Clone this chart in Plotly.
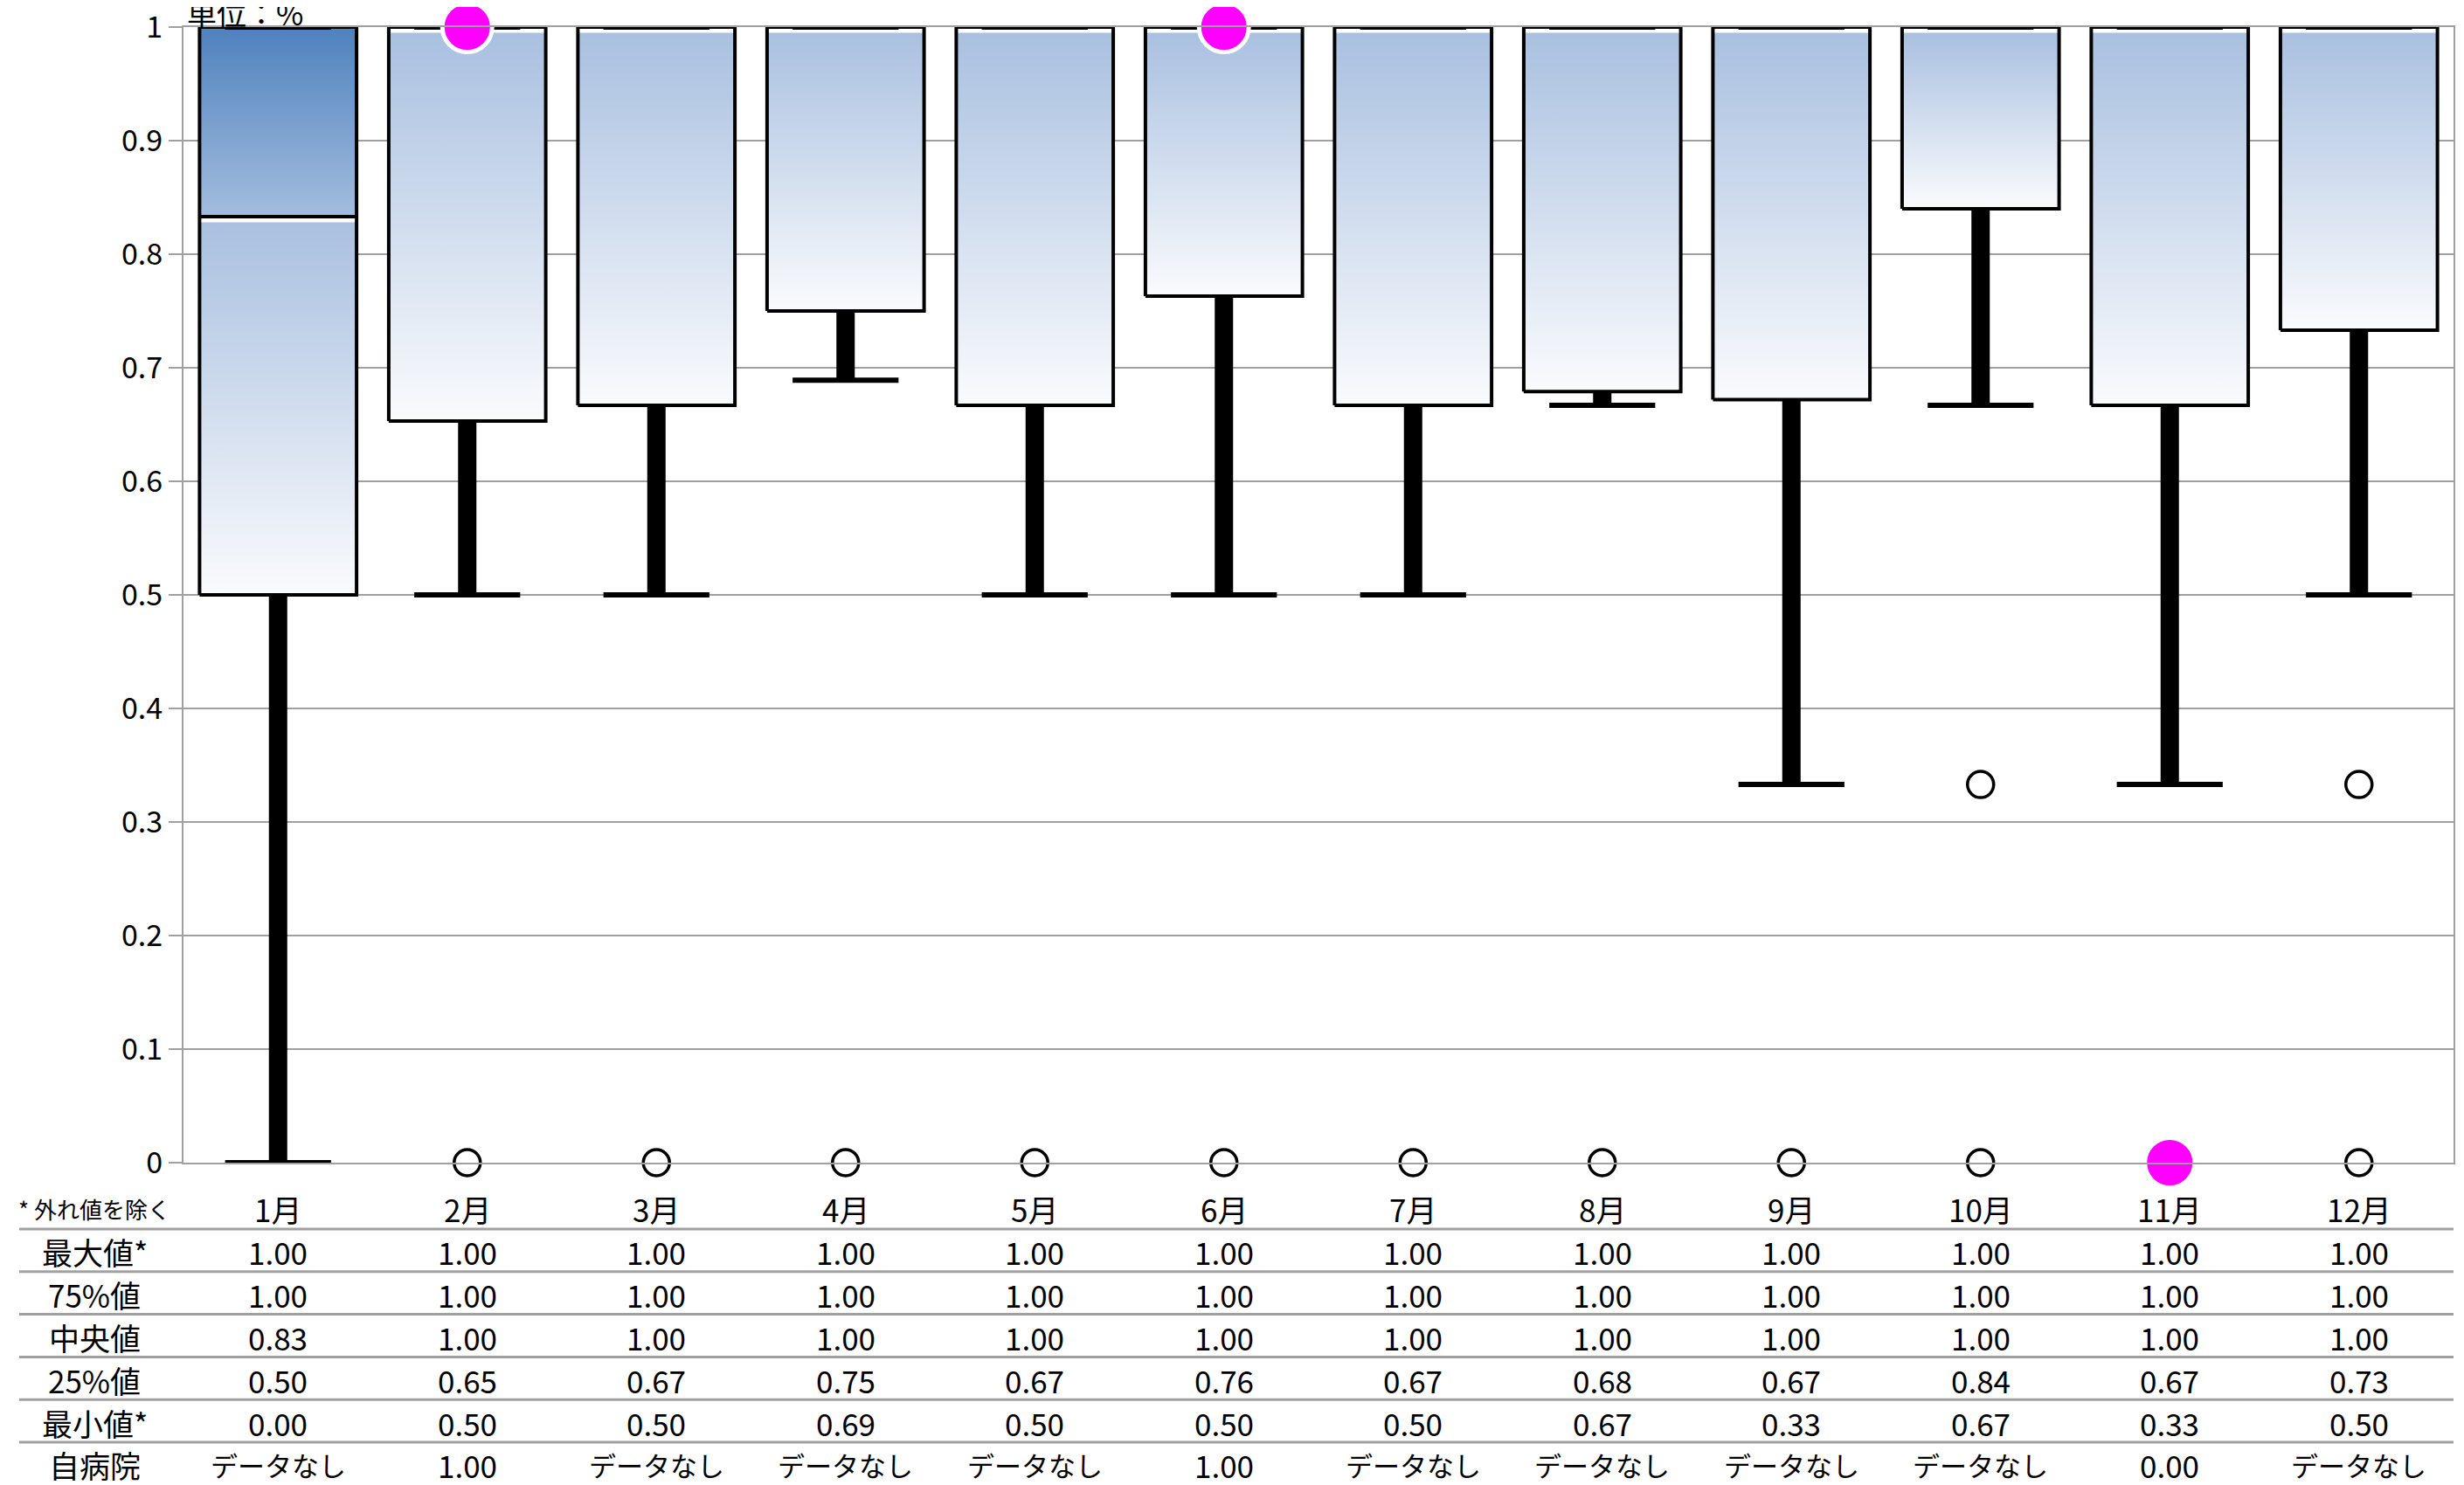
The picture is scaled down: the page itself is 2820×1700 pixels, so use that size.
import plotly.graph_objects as go

# ---------------- data ----------------
months = ["1月", "2月", "3月", "4月", "5月", "6月", "7月", "8月", "9月", "10月", "11月", "12月"]
max_vals = [1.00, 1.00, 1.00, 1.00, 1.00, 1.00, 1.00, 1.00, 1.00, 1.00, 1.00, 1.00]
q3_vals = [1.00, 1.00, 1.00, 1.00, 1.00, 1.00, 1.00, 1.00, 1.00, 1.00, 1.00, 1.00]
median_vals = [0.833, 1.00, 1.00, 1.00, 1.00, 1.00, 1.00, 1.00, 1.00, 1.00, 1.00, 1.00]
q1_vals = [0.50, 0.653, 0.667, 0.75, 0.667, 0.763, 0.667, 0.679, 0.672, 0.84, 0.667, 0.733]
min_vals = [0.00, 0.50, 0.50, 0.689, 0.50, 0.50, 0.50, 0.667, 0.333, 0.667, 0.333, 0.50]
self_vals = [None, 1.00, None, None, None, 1.00, None, None, None, None, 0.00, None]
outlier_months = ["2月", "3月", "4月", "5月", "6月", "7月", "8月", "9月", "10月", "10月", "11月", "12月", "12月"]
outlier_values = [0.0, 0.0, 0.0, 0.0, 0.0, 0.0, 0.0, 0.0, 0.0, 0.333, 0.0, 0.0, 0.333]
row_labels = ["最大値*", "75%値", "中央値", "25%値", "最小値*", "自病院"]
note_label = "* 外れ値を除く"
unit_label = "単位：%"
no_data_text = "データなし"
y_ticks = [0, 0.1, 0.2, 0.3, 0.4, 0.5, 0.6, 0.7, 0.8, 0.9, 1]
y_tick_text = ["0", "0.1", "0.2", "0.3", "0.4", "0.5", "0.6", "0.7", "0.8", "0.9", "1"]

# ---------------- style ----------------
# page body has an 8px margin, so the figure is slightly smaller than the window
OFF = 8
W, H = 2820 - OFF, 1700 - OFF
PLOT_LEFT, PLOT_RIGHT, PLOT_TOP, PLOT_BOTTOM = 210, 2808, 31, 1331   # screen pixels
ML, MR = PLOT_LEFT - OFF, W - (PLOT_RIGHT - OFF)
MT, MB = PLOT_TOP - OFF, H - (PLOT_BOTTOM - OFF)
PLOT_W = PLOT_RIGHT - PLOT_LEFT
PLOT_H = PLOT_BOTTOM - PLOT_TOP
FONT = "Noto Sans CJK JP"
GRID = "#a0a0a0"
HALF_BOX = 0.415
HALF_CAP = 0.28
TOP_GAP = 0.005
LIGHT_SCALE = [[0, "rgb(250,251,253)"], [1, "rgb(169,192,224)"]]
DARK_SCALE = [[0, "rgb(163,189,222)"], [1, "rgb(79,129,189)"]]
TABLE_FONT = 35
KANA_FONT = 31

idx = {m: i for i, m in enumerate(months)}

fig = go.Figure()


def rect(x0, x1, y0, y1):
    return [x0, x1, x1, x0, x0], [y0, y0, y1, y1, y0]


for i, m in enumerate(months):
    q1, med, q3 = q1_vals[i], median_vals[i], q3_vals[i]
    lo, hi = min_vals[i], max_vals[i]
    # whiskers
    if lo < q1:
        fig.add_trace(go.Scatter(x=[i, i], y=[lo, q1], mode="lines",
                                 line=dict(color="black", width=21), hoverinfo="skip"))
    if hi > q3:
        fig.add_trace(go.Scatter(x=[i, i], y=[q3, hi], mode="lines",
                                 line=dict(color="black", width=21), hoverinfo="skip"))
    # lower gradient part (Q1 -> median)
    if med > q1:
        xs, ys = rect(i - HALF_BOX, i + HALF_BOX, q1, med - TOP_GAP)
        fig.add_trace(go.Scatter(x=xs, y=ys, mode="lines", fill="toself",
                                 line=dict(width=0, color="rgba(0,0,0,0)"),
                                 fillgradient=dict(type="vertical", colorscale=LIGHT_SCALE),
                                 hoverinfo="skip"))
    # upper gradient part (median -> Q3)
    if q3 > med:
        xs, ys = rect(i - HALF_BOX, i + HALF_BOX, med, q3)
        fig.add_trace(go.Scatter(x=xs, y=ys, mode="lines", fill="toself",
                                 line=dict(width=0, color="rgba(0,0,0,0)"),
                                 fillgradient=dict(type="vertical", colorscale=DARK_SCALE),
                                 hoverinfo="skip"))
    # outline + median line
    xs, ys = rect(i - HALF_BOX, i + HALF_BOX, q1, q3)
    xs = xs + [None, i - HALF_BOX, i + HALF_BOX]
    ys = ys + [None, med, med]
    fig.add_trace(go.Scatter(x=xs, y=ys, mode="lines",
                             line=dict(color="black", width=4), hoverinfo="skip"))
    # caps
    fig.add_trace(go.Scatter(x=[i - HALF_CAP, i + HALF_CAP, None, i - HALF_CAP, i + HALF_CAP],
                             y=[lo, lo, None, hi, hi], mode="lines",
                             line=dict(color="black", width=6), hoverinfo="skip",
                             cliponaxis=False))

# outliers
fig.add_trace(go.Scatter(x=[idx[m] for m in outlier_months], y=outlier_values, mode="markers",
                         marker=dict(symbol="circle", size=30, color="white",
                                     line=dict(color="black", width=3.5)),
                         cliponaxis=False, hoverinfo="skip"))

# own hospital
sx = [i for i, v in enumerate(self_vals) if v is not None]
sy = [v for v in self_vals if v is not None]
fig.add_trace(go.Scatter(x=sx, y=sy, mode="markers",
                         marker=dict(symbol="circle", size=57, color="#ff00ff",
                                     line=dict(color="white", width=5)),
                         cliponaxis=False, hoverinfo="skip"))


# ---------------- table ----------------
def py(px):  # screen pixel (from top) -> paper y
    return (PLOT_BOTTOM - px) / PLOT_H


def pxp(px):  # screen pixel (from left) -> paper x
    return (px - PLOT_LEFT) / PLOT_W


HEADER_Y = 1384
LINE0_Y = 1407
ROW_PITCH = 48.8
LABEL_X = pxp(108)
annotations = []
annotations.append(dict(x=LABEL_X, y=py(HEADER_Y), xref="paper", yref="paper", text=note_label,
                        showarrow=False, font=dict(family=FONT, size=26, color="black"),
                        xanchor="center", yanchor="middle"))
for i, m in enumerate(months):
    annotations.append(dict(x=i, y=py(HEADER_Y), xref="x", yref="paper", text=m,
                            showarrow=False, font=dict(family=FONT, size=TABLE_FONT, color="black"),
                            xanchor="center", yanchor="middle"))

rows = [max_vals, q3_vals, median_vals, q1_vals, min_vals, self_vals]
for r, (lab, vals) in enumerate(zip(row_labels, rows)):
    yy = py(HEADER_Y + ROW_PITCH * (r + 1))
    annotations.append(dict(x=LABEL_X, y=yy, xref="paper", yref="paper", text=lab,
                            showarrow=False, font=dict(family=FONT, size=TABLE_FONT, color="black"),
                            xanchor="center", yanchor="middle"))
    for i, v in enumerate(vals):
        txt = no_data_text if v is None else f"{v:.2f}"
        fs = KANA_FONT if v is None else TABLE_FONT
        annotations.append(dict(x=i, y=yy, xref="x", yref="paper", text=txt,
                                showarrow=False, font=dict(family=FONT, size=fs, color="black"),
                                xanchor="center", yanchor="middle"))

annotations.append(dict(x=pxp(212), y=py(15), xref="paper", yref="paper",
                        text=unit_label, showarrow=False,
                        font=dict(family=FONT, size=34, color="black"),
                        xanchor="left", yanchor="middle"))

shapes = []
for r in range(len(row_labels)):
    yy = py(LINE0_Y + ROW_PITCH * r)
    shapes.append(dict(type="line", xref="paper", yref="paper",
                       x0=pxp(22), x1=1.0, y0=yy, y1=yy,
                       line=dict(color=GRID, width=3)))

fig.update_layout(
    width=W, height=H,
    margin=dict(l=ML, r=MR, t=MT, b=MB, pad=0, autoexpand=False),
    paper_bgcolor="white", plot_bgcolor="white",
    showlegend=False,
    font=dict(family=FONT, size=33, color="black"),
    annotations=annotations,
    shapes=shapes,
    xaxis=dict(range=[-0.5, 11.5], showticklabels=False, showgrid=False, zeroline=False,
               showline=True, linecolor=GRID, linewidth=2, mirror=True, ticks="",
               automargin=False),
    yaxis=dict(range=[0, 1], tickvals=y_ticks, ticktext=y_tick_text, showgrid=True,
               gridcolor=GRID, gridwidth=2, zeroline=False, showline=True, linecolor=GRID,
               linewidth=2, mirror=True, ticks="outside", ticklen=15, tickcolor=GRID,
               tickwidth=2, ticklabeloverflow="allow", automargin=False,
               tickfont=dict(family=FONT, size=34, color="black")),
)

fig.write_html("out.html")
